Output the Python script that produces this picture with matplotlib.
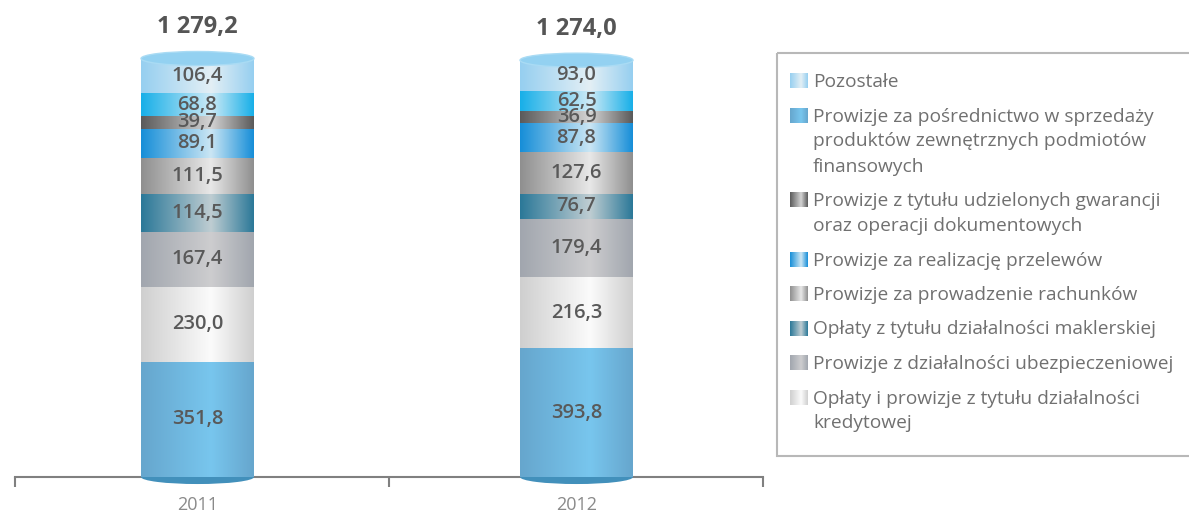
import numpy as np
import matplotlib
matplotlib.use("Agg")
import matplotlib.pyplot as plt
from matplotlib.colors import LinearSegmentedColormap
from matplotlib.patches import Ellipse, Rectangle

# data, stacked from the bottom of each cylinder up
categories = ["2011", "2012"]
series_names = [
    "Prowizje za pośrednictwo w sprzedaży\nproduktów zewnętrznych podmiotów\nfinansowych",
    "Opłaty i prowizje z tytułu działalności\nkredytowej",
    "Prowizje z działalności ubezpieczeniowej",
    "Opłaty z tytułu działalności maklerskiej",
    "Prowizje za prowadzenie rachunków",
    "Prowizje za realizację przelewów",
    "Prowizje z tytułu udzielonych gwarancji\noraz operacji dokumentowych",
    None,
    "Pozostałe",
]
values_2011 = [351.8, 230.0, 167.4, 114.5, 111.5, 89.1, 39.7, 68.8, 106.4]
values_2012 = [393.8, 216.3, 179.4, 76.7, 127.6, 87.8, 36.9, 62.5, 93.0]
legend_order = [8, 0, 6, 5, 4, 3, 2, 1]

# (edge, highlight) colours of the cylinder gradient for each series
series_colors = [
    ("#66a6cd", "#78c6ee"),
    ("#cfcfcf", "#fbfbfb"),
    ("#a1a6ae", "#cdcdcf"),
    ("#2b7898", "#bfcdd2"),
    ("#8f8f8f", "#e8e8e8"),
    ("#168ed8", "#cbe6f4"),
    ("#5a5a5a", "#d4d4d4"),
    ("#17afe8", "#cdeaf6"),
    ("#96cff0", "#e3eff5"),
]

W, H = 1189, 515
plt.rcParams["font.family"] = ["Open Sans", "DejaVu Sans"]


def fmt(v):
    return f"{v:,.1f}".replace(",", " ").replace(".", ",")


def gradient(edge, hi):
    cmap = LinearSegmentedColormap.from_list("g", [(0, edge), (0.62, hi), (1, edge)])
    return cmap(np.linspace(0, 1, 256))[None, :, :3]


fig = plt.figure(figsize=(W / 100, H / 100), dpi=100)
ax = fig.add_axes([15 / W, 38 / H, 748 / W, 458 / H])

bar_w = 0.298
ry = 21.5  # half height of the cylinder ellipses, data units
values = [values_2011, values_2012]

for i, vals in enumerate(values):
    bottom = 0.0
    for j, v in enumerate(vals):
        edge, hi = series_colors[j]
        ax.imshow(gradient(edge, hi), extent=[i - bar_w / 2, i + bar_w / 2, bottom, bottom + v],
                  aspect="auto", interpolation="bilinear", zorder=3)
        ax.text(i, bottom + v / 2, fmt(v), ha="center", va="center", fontsize=14.5,
                fontweight="semibold", color="#595959", zorder=6)
        bottom += v
    ax.add_patch(Ellipse((i, 0), bar_w, 2 * ry, facecolor="#4290bb", edgecolor="none",
                         zorder=2.8, clip_on=False))
    ax.add_patch(Ellipse((i, bottom), bar_w, 2 * ry, facecolor="#93d1f1", edgecolor="#a9dbf4",
                         linewidth=1, zorder=4))
    ax.annotate(fmt(sum(vals)), xy=(i, bottom), xytext=(0, 22.5), textcoords="offset points",
                ha="center", va="center", fontsize=17, fontweight="bold", color="#555555")

ax.set_xlim(-0.4815, 1.492)
ax.set_ylim(0, 1400)
for s in ["top", "left", "right"]:
    ax.spines[s].set_visible(False)
ax.spines["bottom"].set_color("#808080")
ax.spines["bottom"].set_linewidth(1.5)
ax.set_yticks([])
ax.set_xticks([-0.4815, 0.505, 1.492])
ax.set_xticklabels([])
ax.tick_params(axis="x", which="major", length=7, width=1.5, color="#808080")
ax.set_xticks([0, 1], minor=True)
ax.set_xticklabels(categories, minor=True)
ax.tick_params(axis="x", which="minor", length=0, pad=14, labelsize=13, labelcolor="#8a8a8a")

# legend box drawn in pixel coordinates
lax = fig.add_axes([0, 0, 1, 1])
lax.set_xlim(0, W)
lax.set_ylim(H, 0)
lax.axis("off")
lax.add_patch(Rectangle((777, 53), 500, 403, fill=False, edgecolor="#b8b8b8", linewidth=1.5))

y = 82
for k in legend_order:
    edge, hi = series_colors[k]
    lax.imshow(gradient(edge, hi), extent=[790, 808, y + 6.5, y - 8.5], aspect="auto",
               interpolation="bilinear")
    for line in series_names[k].split("\n"):
        lax.text(813, y + 5, line, ha="left", va="baseline", fontsize=13.8, color="#707070")
        y += 25
    y += 9.5
lax.set_xlim(0, W)
lax.set_ylim(H, 0)

fig.savefig("out.png", dpi=100)
